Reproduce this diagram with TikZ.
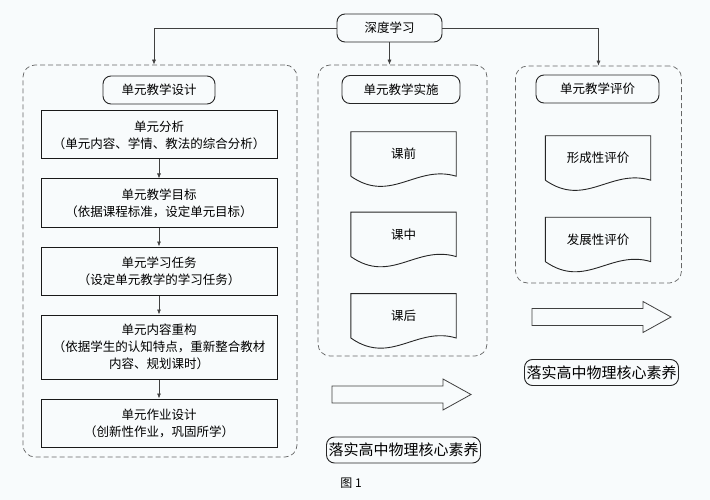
\documentclass[tikz,border=0pt]{standalone}
\usepackage{fontspec}
\setmainfont{Noto Sans CJK SC}
\usetikzlibrary{arrows.meta,positioning}
\definecolor{paper}{RGB}{248,251,252}

\begin{document}
\begin{tikzpicture}[x=1pt, y=-1pt,
  font=\fontsize{12.5}{17}\selectfont,
  node distance=19pt,
  zone/.style ={rectangle, draw=black!60, dash pattern=on 5pt off 3pt,
                rounded corners=12pt, line width=0.7pt},
  hdr/.style  ={rectangle, draw=black!85, rounded corners=8pt,
                line width=0.9pt, minimum width=112pt,
                minimum height=28pt, inner sep=2pt},
  stage/.style={rectangle, draw=black!90, line width=1pt, align=center,
                minimum width=236pt, minimum height=48pt, inner sep=2pt},
  doc/.style  ={rectangle, minimum width=105pt, minimum height=44pt,
                inner sep=0pt},
  docline/.style={draw=black!85, line width=0.9pt},
  goal/.style ={rectangle, draw=black!85, rounded corners=8pt,
                line width=0.9pt, minimum width=153pt, minimum height=26pt,
                inner sep=2pt, font=\fontsize{15}{18}\selectfont},
  link/.style ={-{Latex[length=5pt,width=4pt]}, line width=0.7pt, black!75},
  fat/.style  ={draw=black!75, line width=0.8pt},
]

\fill[paper] (0,0) rectangle (710,500);
\useasboundingbox (0,0) rectangle (710,500);

% === Containers ===
\node[zone, minimum width=274pt, minimum height=392pt] (design) at (160,261) {};
\node[zone, minimum width=169pt, minimum height=291pt] (teach) at (402.5,210.5) {};
\node[zone, minimum width=166pt, minimum height=217pt] (assess) at (598.5,174.5) {};

% === Top ===
\node[hdr, minimum width=105pt] (deep) at (389.5,28) {深度学习};

% === Column headers ===
\node[hdr] (hDesign) at (159,90) {单元教学设计};
\node[hdr, minimum width=118pt] (hTeach) at (401,89.5) {单元教学实施};
\node[hdr, minimum width=123pt] (hAssess) at (597.5,89) {单元教学评价};

% === Design steps (left) ===
\node[stage] (analysis) at (159,135)
  {单元分析\\（单元内容、学情、教法的综合分析）};

\node[stage, below=of analysis] (target)
  {单元教学目标\\（依据课程标准，设定单元目标）};

\node[stage, below=of target] (task)
  {单元学习任务\\（设定单元教学的学习任务）};

\node[stage, below=of task, minimum height=64pt] (rebuild)
  {单元内容重构\\（依据学生的认知特点，重新整合教材\\内容、规划课时）};

\node[stage, below=of rebuild] (homework)
  {单元作业设计\\（创新性作业，巩固所学）};

% === Lessons (middle) ===
\node[doc] (before) at (403.5,154) {课前};
\node[doc, below=36pt of before] (during) {课中};
\node[doc, below=37pt of during] (after) {课后};

% === Evaluation (right) ===
\node[doc] (formative) at (598,158) {形成性评价};
\node[doc, below=37pt of formative] (growth) {发展性评价};

\foreach \d in {before,during,after,formative,growth}
  \draw[docline] (\d.south west) -- (\d.north west) -- (\d.north east)
    -- (\d.south east) .. controls +(-40,-12) and +(40,28) .. (\d.south west);

% === Outcome ===
\coordinate (pushB) at (332,394.5);
\coordinate (pushC) at (532,317);
\foreach \p in {pushB,pushC}
  \draw[fat] (\p) ++(0,-8.5) -- ++(111,0) -- ++(0,-7) -- ++(28,15.5)
    -- ++(-28,15.5) -- ++(0,-7) -- ++(-111,0) -- cycle;

\node[goal] (coreB) at (403.5,450) {落实高中物理核心素养};
\node[goal] (coreC) at (601.5,372.5) {落实高中物理核心素养};

\node[font=\fontsize{12}{14}\selectfont] (fig) at (351,483) {图 1};

% === Links ===
\draw[link] (deep.west) -| ([xshift=-6pt]design.north);
\draw[link] (deep.south) -- (deep.south |- teach.north);
\draw[link] (deep.east) -| (assess.north);

\draw[link] (analysis) -- (target);
\draw[link] (target) -- (task);
\draw[link] (task) -- (rebuild);
\draw[link] (rebuild) -- (homework);

\end{tikzpicture}
\end{document}
